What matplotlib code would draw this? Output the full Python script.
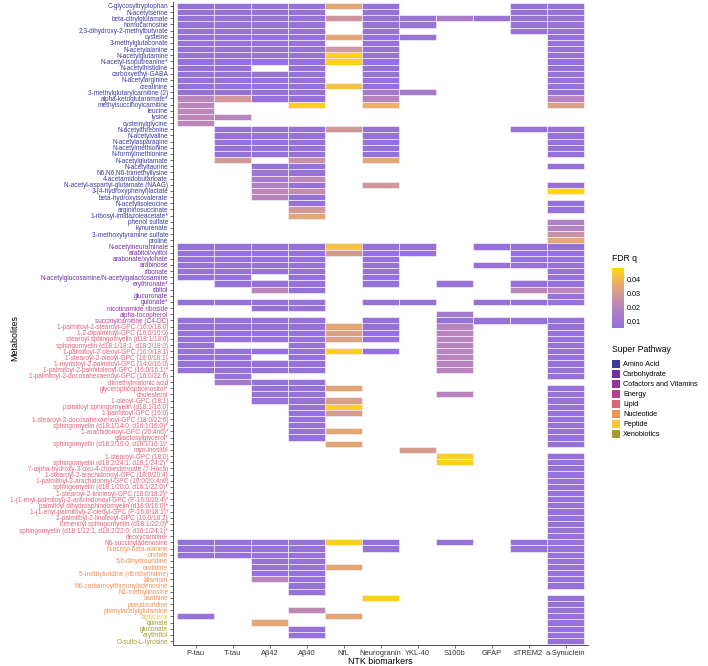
import numpy as np
import matplotlib
matplotlib.use("Agg")
import matplotlib.pyplot as plt
from matplotlib.colors import LinearSegmentedColormap, Normalize
from matplotlib.patches import Rectangle

N = None
biomarkers = ["P-tau", "T-tau", "Aβ42", "Aβ40", "NfL", "Neurogranin", "YKL-40",
              "S100b", "GFAP", "sTREM2", "a-Synuclein"]

pathway_names = ["Amino Acid", "Carbohydrate", "Cofactors and Vitamins", "Energy",
                 "Lipid", "Nucleotide", "Peptide", "Xenobiotics"]
pathway_colors = ["#3B3B9E", "#6F2FA3", "#9433A0", "#B9408E",
                  "#DE6479", "#EE9158", "#F7C63A", "#A89A2E"]

metabolites = [
    "C-glycosyltryptophan", "N-acetylserine", "beta-citrylglutamate", "homocarnosine",
    "2,3-dihydroxy-2-methylbutyrate", "cysteine", "3-methylglutaconate", "N-acetylalanine",
    "N-acetylglutamine", "N-acetyl-isoputreanine*", "N-acetylhistidine", "carboxyethyl-GABA",
    "N-acetylarginine", "creatinine", "3-methylglutarylcarnitine (2)", "alpha-ketoglutaramate*",
    "methylsuccinoylcarnitine", "leucine", "lysine", "cysteinylglycine",
    "N-acetylthreonine", "N-acetylvaline", "N-acetylasparagine", "N-acetylmethionine",
    "N-formylmethionine", "N-acetylglutamate", "N-acetyltaurine", "N6,N6,N6-trimethyllysine",
    "4-acetamidobutanoate", "N-acetyl-aspartyl-glutamate (NAAG)", "3-(4-hydroxyphenyl)lactate",
    "beta-hydroxyisovalerate", "N-acetylisoleucine", "argininosuccinate",
    "1-ribosyl-imidazoleacetate*", "phenol sulfate", "kynurenate", "3-methoxytyramine sulfate",
    "proline",
    "N-acetylneuraminate", "arabitol/xylitol", "arabonate/xylonate", "arabinose", "ribonate",
    "N-acetylglucosamine/N-acetylgalactosamine", "erythronate*", "ribitol", "glucuronate",
    "gulonate*",
    "nicotinamide riboside", "alpha-tocopherol",
    "succinylcarnitine (C4-DC)",
    "1-palmitoyl-2-stearoyl-GPC (16:0/18:0)", "1,2-dipalmitoyl-GPC (16:0/16:0)",
    "stearoyl sphingomyelin (d18:1/18:0)", "sphingomyelin (d18:1/18:1, d18:2/18:0)",
    "1-palmitoyl-2-oleoyl-GPC (16:0/18:1)", "1-stearoyl-2-oleoyl-GPC (18:0/18:1)",
    "1-myristoyl-2-palmitoyl-GPC (14:0/16:0)", "1-palmitoyl-2-palmitoleoyl-GPC (16:0/16:1)*",
    "1-palmitoyl-2-docosahexaenoyl-GPC (16:0/22:6)", "dimethylmalonic acid",
    "glycerophosphoinositol*", "cholesterol", "1-oleoyl-GPC (18:1)",
    "palmitoyl sphingomyelin (d18:1/16:0)", "1-palmitoyl-GPC (16:0)",
    "1-stearoyl-2-docosahexaenoyl-GPC (18:0/22:6)", "sphingomyelin (d18:1/14:0, d16:1/16:0)*",
    "1-arachidonoyl-GPC (20:4n6)*", "galactosylglycerol*",
    "sphingomyelin (d18:2/16:0, d18:1/16:1)*", "myo-inositol", "1-stearoyl-GPC (18:0)",
    "sphingomyelin (d18:2/24:1, d18:1/24:2)*", "7-alpha-hydroxy-3-oxo-4-cholestenoate (7-Hoca)",
    "1-stearoyl-2-arachidonoyl-GPC (18:0/20:4)", "1-palmitoyl-2-arachidonoyl-GPC (16:0/20:4n6)",
    "sphingomyelin (d18:1/20:0, d16:1/22:0)*", "1-stearoyl-2-linoleoyl-GPC (18:0/18:2)*",
    "1-(1-enyl-palmitoyl)-2-arachidonoyl-GPC (P-16:0/20:4)*",
    "palmitoyl dihydrosphingomyelin (d18:0/16:0)*",
    "1-(1-enyl-palmitoyl)-2-oleoyl-GPC (P-16:0/18:1)*", "1-palmitoyl-2-linoleoyl-GPC (16:0/18:2)",
    "behenoyl sphingomyelin (d18:1/22:0)*",
    "sphingomyelin (d18:1/22:1, d18:2/22:0, d16:1/24:1)*", "deoxycarnitine",
    "N6-succinyladenosine", "N-acetyl-beta-alanine", "orotate", "5,6-dihydrouridine",
    "orotidine", "5-methyluridine (ribothymidine)", "allantoin",
    "N6-carbamoylthreonyladenosine", "N1-methylinosine", "xanthine", "pseudouridine",
    "phenylacetylglutamine",
    "diglycerol", "quinate", "gluconate", "erythritol", "O-sulfo-L-tyrosine",
]
pathway_counts = [39, 10, 2, 1, 36, 11, 1, 5]

# FDR q values, columns in biomarker order (None = not significant)
q = [
    [.006, .006, .006, .006, .035, .006, N, N, N, .006, .006],
    [.006, .006, .006, .006, N, .006, N, N, N, .006, .006],
    [.006, .006, .006, .006, .027, .006, .008, .014, .009, .006, .006],
    [.006, .006, .006, .006, N, .006, .008, N, N, .006, .006],
    [.006, .006, .006, .006, N, .006, N, N, N, .006, .006],
    [.006, .006, .006, .006, .035, .006, .008, N, N, N, .006],
    [.006, .006, .006, .006, N, .006, N, N, N, N, .006],
    [.006, .006, .006, .006, .028, .006, N, N, N, N, .006],
    [.006, .006, .006, .006, .046, .006, N, N, N, N, .006],
    [.006, .006, .006, .006, .046, .006, N, N, N, N, .006],
    [.006, .006, N, .006, N, .006, N, N, N, N, .006],
    [.006, .006, .006, .006, N, .006, N, N, N, N, .006],
    [.006, .006, .006, .006, N, .006, N, N, N, N, .006],
    [.006, .006, .006, .006, .042, .006, N, N, N, N, .006],
    [.006, .006, .006, .006, N, .011, .013, N, N, N, .006],
    [.021, .028, .006, .006, N, .019, N, N, N, N, .020],
    [.021, N, N, .046, N, .038, N, N, N, N, .031],
    [.021, N, N, N, N, N, N, N, N, N, N],
    [.021, .020, N, N, N, N, N, N, N, N, N],
    [.021, N, N, N, N, N, N, N, N, N, N],
    [N, .006, .006, .006, .028, .006, N, N, N, .006, .006],
    [N, .006, .006, .006, N, .006, N, N, N, N, .006],
    [N, .006, .006, .006, N, .006, N, N, N, N, .006],
    [N, .006, .006, .006, N, .006, N, N, N, N, .006],
    [N, .006, .006, .006, N, .006, N, N, N, N, .006],
    [N, .028, N, .025, N, .035, N, N, N, N, N],
    [N, N, .006, .006, N, N, N, N, N, N, .006],
    [N, N, .010, .006, N, N, N, N, N, N, N],
    [N, N, .013, .022, N, N, N, N, N, N, N],
    [N, N, .017, .006, N, .028, N, N, N, N, .006],
    [N, N, .021, .023, N, N, N, N, N, N, .048],
    [N, N, .020, .006, N, N, N, N, N, N, N],
    [N, N, N, .006, N, N, N, N, N, N, .006],
    [N, N, N, .028, N, N, N, N, N, N, .006],
    [N, N, N, .035, N, N, N, N, N, N, N],
    [N, N, N, N, N, N, N, N, N, N, .017],
    [N, N, N, N, N, N, N, N, N, N, .019],
    [N, N, N, N, N, N, N, N, N, N, .025],
    [N, N, N, N, N, N, N, N, N, N, .036],
    [.006, .006, .006, .006, .042, .006, .006, N, .006, .006, .006],
    [.006, .006, .006, .006, .028, .006, .006, N, N, .006, .006],
    [.006, .006, .006, .006, N, .006, N, N, N, .006, .006],
    [.006, .006, .006, .006, N, .006, N, N, .006, .006, .006],
    [.006, .006, .006, .006, N, .006, N, N, N, N, .006],
    [.006, .006, N, .006, N, .006, N, N, N, N, .006],
    [N, .006, .006, .006, N, .006, N, .008, N, .006, .006],
    [N, N, .021, .006, N, N, N, N, N, .021, .021],
    [N, N, N, N, N, N, N, N, N, N, .006],
    [.006, .006, .006, .006, N, .006, .006, N, .006, .006, .006],
    [N, N, .006, .006, N, N, N, N, N, N, N],
    [N, N, N, N, N, N, N, .012, N, N, N],
    [.006, .006, .006, .006, N, .006, N, .006, .006, .006, .006],
    [.006, .006, .006, .006, .035, .006, N, .020, N, N, .006],
    [.006, .006, .006, .006, .032, .006, N, .020, N, N, .006],
    [.006, .006, .006, .006, .032, .006, N, .020, N, N, .006],
    [.006, N, N, .006, N, N, N, .020, N, N, .006],
    [.006, .006, .006, .006, .045, .006, N, .020, N, N, .006],
    [.006, .006, N, .006, N, N, N, .020, N, N, .006],
    [.006, .006, .006, .006, N, N, N, .020, N, N, .006],
    [.006, .006, .006, .006, N, N, N, .020, N, N, .006],
    [N, .006, N, N, N, N, N, N, N, N, .006],
    [N, .012, .006, .006, N, N, N, N, N, N, N],
    [N, N, .006, .006, .035, N, N, N, N, N, .006],
    [N, N, .006, .006, N, N, N, .020, N, N, .006],
    [N, N, .006, .006, .032, N, N, N, N, N, .006],
    [N, N, N, .006, .045, N, N, N, N, N, .006],
    [N, N, N, .006, .029, N, N, N, N, N, .006],
    [N, N, N, .006, N, N, N, N, N, N, .006],
    [N, N, N, .006, N, N, N, N, N, N, .006],
    [N, N, N, .006, .035, N, N, N, N, N, .006],
    [N, N, N, .006, N, N, N, N, N, N, .006],
    [N, N, N, N, .035, N, N, N, N, N, .006],
    [N, N, N, N, N, N, .030, N, N, N, N],
    [N, N, N, N, N, N, N, .045, N, N, .006],
    [N, N, N, N, N, N, N, .045, N, N, .006],
    [N, N, N, N, N, N, N, N, N, N, .006],
    [N, N, N, N, N, N, N, N, N, N, .006],
    [N, N, N, N, N, N, N, N, N, N, .006],
    [N, N, N, N, N, N, N, N, N, N, .006],
    [N, N, N, N, N, N, N, N, N, N, .006],
    [N, N, N, N, N, N, N, N, N, N, .006],
    [N, N, N, N, N, N, N, N, N, N, .006],
    [N, N, N, N, N, N, N, N, N, N, .006],
    [N, N, N, N, N, N, N, N, N, N, .006],
    [N, N, N, N, N, N, N, N, N, N, .006],
    [N, N, N, N, N, N, N, N, N, N, .006],
    [N, N, N, N, N, N, N, N, N, N, .006],
    [.006, .006, .006, .006, .045, .006, N, .006, N, .006, .006],
    [.006, .006, .006, .006, N, .006, N, N, N, .006, .006],
    [.006, .006, .006, .006, N, N, N, N, N, N, .006],
    [N, N, .006, .006, N, N, N, N, N, N, .006],
    [N, N, .006, .006, .035, N, N, N, N, N, .006],
    [N, N, .006, .006, N, N, N, N, N, N, .006],
    [N, N, .020, .006, N, N, N, N, N, N, .006],
    [N, N, N, .006, N, N, N, N, N, N, .006],
    [N, N, N, .006, N, N, N, N, N, N, N],
    [N, N, N, N, N, .045, N, N, N, N, .006],
    [N, N, N, N, N, N, N, N, N, N, .006],
    [N, N, N, .022, N, N, N, N, N, N, .006],
    [.006, N, N, N, .035, N, N, N, N, N, .006],
    [N, N, .035, N, N, N, N, N, N, N, .006],
    [N, N, N, .006, N, N, N, N, N, N, .006],
    [N, N, N, .006, N, N, N, N, N, N, .006],
    [N, N, N, N, N, N, N, N, N, N, .006],
]

colorbar_ticks = [0.01, 0.02, 0.03, 0.04]
q_min, q_max = 0.005, 0.048

# ---------------------------------------------------------------
plt.rcParams['font.family'] = ['Liberation Sans', 'DejaVu Sans']
cmap = LinearSegmentedColormap.from_list(
    "fdr", [(0.0, "#9370DB"), (0.35, "#B884BE"), (0.55, "#D29A94"),
            (0.72, "#E6A972"), (0.88, "#F6C643"), (1.0, "#FFD700")])
norm = Normalize(q_min, q_max)

W, H = 708, 666
fig = plt.figure(figsize=(W / 100, H / 100), dpi=100)
ax = fig.add_axes([173.3 / W, 1 - 644.7 / H, (587.7 - 173.3) / W, (644.7 - 2.3) / H])

nrow, ncol = len(metabolites), len(biomarkers)
for j in range(ncol):
    rows = [i for i in range(nrow) if q[i][j] is not None]
    vals = [q[i][j] for i in rows]
    ax.bar([j] * len(rows), [1] * len(rows), bottom=[r - 0.5 for r in rows], width=1,
           color=cmap(norm(vals)), edgecolor="#F2EEF8", linewidth=0.5)
ax.set_xlim(-0.6, ncol - 0.4)
ax.set_ylim(nrow - 0.4, -0.6)

ax.set_xticks(range(ncol))
ax.set_xticklabels(biomarkers, fontsize=5.4, color="#333333")
ax.set_yticks(range(nrow))
ax.set_yticklabels(metabolites, fontsize=4.7)
row_colors = []
for c, n in zip(pathway_colors, pathway_counts):
    row_colors += [c] * n
for lab, c in zip(ax.get_yticklabels(), row_colors):
    lab.set_color(c)
ax.tick_params(axis="both", length=2.2, width=0.5, color="#333333", pad=1.5)
for s in ["top", "right"]:
    ax.spines[s].set_visible(False)
for s in ["left", "bottom"]:
    ax.spines[s].set_color("#333333")
    ax.spines[s].set_linewidth(0.6)
fig.text(380.5 / W, 1 - 661 / H, "NTK biomarkers", fontsize=6.4, ha="center", va="center")
fig.text(15 / W, 1 - 338 / H, "Metabolites", fontsize=6.4, ha="center", va="center",
         rotation=90)

# colour bar legend
cax = fig.add_axes([612 / W, 1 - 328 / H, 12 / W, 60 / H])
grad = np.linspace(q_min, q_max, 200).reshape(-1, 1)
cax.imshow(grad, aspect="auto", cmap=cmap, norm=norm, origin="lower",
           extent=[0, 1, q_min, q_max])
cax.set_xticks([])
cax.yaxis.tick_right()
cax.set_yticks(colorbar_ticks)
cax.set_yticklabels([f"{t:.2f}" for t in colorbar_ticks], fontsize=5.2)
cax.tick_params(axis="y", length=0, pad=2)
for s in cax.spines.values():
    s.set_visible(False)
fig.text(612 / W, 1 - 263 / H, "FDR q", fontsize=6.2, va="bottom")

# super pathway legend
fig.text(612 / W, 1 - 354 / H, "Super Pathway", fontsize=6.2, va="bottom")
for i, (name, c) in enumerate(zip(pathway_names, pathway_colors)):
    y = 360 + i * 10
    fig.patches.append(Rectangle((612 / W, 1 - (y + 8) / H), 8 / W, 8 / H,
                                 transform=fig.transFigure, facecolor=c, edgecolor="none"))
    fig.text(623 / W, 1 - (y + 4) / H, name, fontsize=5.2, va="center")

fig.savefig("out.png", dpi=100)
